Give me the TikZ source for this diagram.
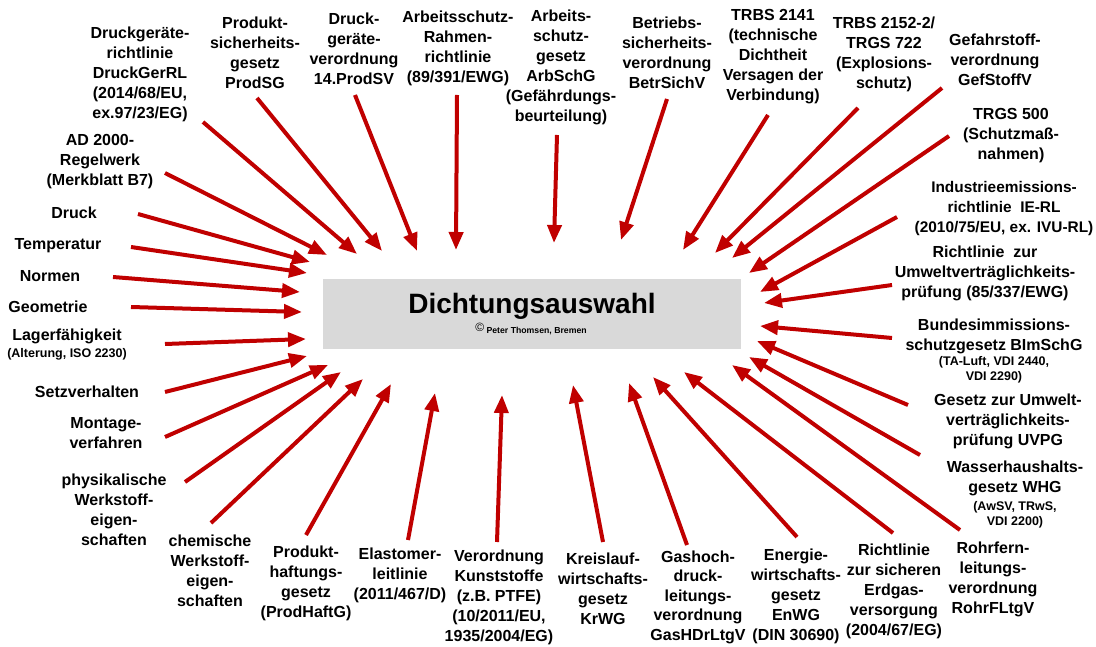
\documentclass[tikz,border=0pt]{standalone}
\usepackage{fontspec}
\setmainfont{Liberation Sans}
\usetikzlibrary{arrows.meta}
\definecolor{arrred}{HTML}{C00000}
\definecolor{boxgray}{HTML}{D9D9D9}
\tikzset{
  lbl/.style={align=center, inner sep=0pt, font=\bfseries\fontsize{16}{20}\selectfont},
  sublbl/.style={align=center, inner sep=0pt, font=\bfseries\fontsize{12.5}{15}\selectfont},
  arr/.style={draw=arrred, line width=4pt, -{Triangle[length=18pt,width=14pt]}, fill=arrred},
  centerbox/.style={fill=boxgray, draw=none, minimum width=418pt, minimum height=70pt, inner sep=0pt}
}
\begin{document}
\begin{tikzpicture}[x=1pt,y=-1pt]
\useasboundingbox (0,0) rectangle (1096,647);
\fill[white] (0,0) rectangle (1096,647);

% centre box
\node[centerbox] (box) at (532,314) {};
\node[anchor=base, inner sep=0pt, font=\bfseries\fontsize{28}{32}\selectfont] (title) at (532,313) {Dichtungsauswahl};
\node[anchor=base, inner sep=0pt, font=\bfseries\fontsize{8.7}{10}\selectfont] (copy) at (531,334) {\raisebox{2pt}{\fontsize{12}{12}\selectfont\mdseries ©}\ Peter Thomsen, Bremen};

% labels: top
\node[lbl] (dgrl) at (140,74) {Druckgeräte-\\richtlinie\\DruckGerRL\\(2014/68/EU,\\ex.97/23/EG)};
\node[lbl] (prodsg) at (255,53) {Produkt-\\sicherheits-\\gesetz\\ProdSG};
\node[lbl] (prodsv) at (354,49) {Druck-\\geräte-\\verordnung\\14.ProdSV};
\node[lbl] (rahmen) at (458,48) {Arbeitsschutz-\\Rahmen-\\richtlinie\\(89/391/EWG)};
\node[lbl] (arbschg) at (561,67) {Arbeits-\\schutz-\\gesetz\\ArbSchG\\(Gefährdungs-\\beurteilung)};
\node[lbl] (betr) at (667,53) {Betriebs-\\sicherheits-\\verordnung\\BetrSichV};
\node[lbl] (trbsa) at (773,57) {TRBS 2141\\(technische\\Dichtheit\\Versagen der\\Verbindung)};
\node[lbl] (trbsb) at (884,54) {TRBS 2152-2/\\TRGS 722\\(Explosions-\\schutz)};
\node[lbl] (gef) at (995,60) {Gefahrstoff-\\verordnung\\GefStoffV};
\node[lbl] (trgs) at (1011,136) {TRGS 500\\(Schutzmaß-\\nahmen)};

% labels: right
\node[lbl, font=\bfseries\fontsize{15.4}{20}\selectfont] (ie) at (1004,209) {Industrieemissions-\\richtlinie~ IE-RL\\(2010/75/EU, ex. IVU-RL)};
\node[lbl] (rluvp) at (985,273) {Richtlinie~ zur\\Umweltverträglichkeits-\\prüfung (85/337/EWG)};
\node[lbl] (bimsch) at (994,336) {Bundesimmissions-\\schutzgesetz BImSchG};
\node[sublbl] (bimschsub) at (994,370) {(TA-Luft, VDI 2440,\\VDI 2290)};
\node[lbl] (uvpg) at (1008,421) {Gesetz zur Umwelt-\\verträglichkeits-\\prüfung UVPG};
\node[lbl] (whg) at (1015,478) {Wasserhaushalts-\\gesetz WHG};
\node[sublbl] (whgsub) at (1015,515) {(AwSV, TRwS,\\VDI 2200)};

% labels: bottom
\node[lbl] (rohr) at (993,579) {Rohrfern-\\leitungs-\\verordnung\\RohrFLtgV};
\node[lbl] (erdgas) at (894,591) {Richtlinie\\zur sicheren\\Erdgas-\\versorgung\\(2004/67/EG)};
\node[lbl] (enwg) at (796,596) {Energie-\\wirtschafts-\\gesetz\\EnWG\\(DIN 30690)};
\node[lbl, font=\bfseries\fontsize{16}{19.5}\selectfont] (gashdr) at (698,597) {Gashoch-\\druck-\\leitungs-\\verordnung\\GasHDrLtgV};
\node[lbl] (krwg) at (603,589) {Kreislauf-\\wirtschafts-\\gesetz\\KrWG};
\node[lbl] (kunst) at (499,597) {Verordnung\\Kunststoffe\\(z.B. PTFE)\\(10/2011/EU,\\1935/2004/EG)};
\node[lbl] (elast) at (400,575) {Elastomer-\\leitlinie\\(2011/467/D)};
\node[lbl] (prodhaft) at (306,583) {Produkt-\\haftungs-\\gesetz\\(ProdHaftG)};
\node[lbl] (chem) at (210,571) {chemische\\Werkstoff-\\eigen-\\schaften};

% labels: left
\node[lbl] (phys) at (114,510) {physikalische\\Werkstoff-\\eigen-\\schaften};
\node[lbl] (montage) at (106,433) {Montage-\\verfahren};
\node[lbl] (setz) at (87,392) {Setzverhalten};
\node[lbl] (lager) at (67,336) {Lagerfähigkeit};
\node[sublbl] (lagersub) at (67,354) {(Alterung, ISO 2230)};
\node[lbl] (geo) at (48,307) {Geometrie};
\node[lbl] (normen) at (50,276) {Normen};
\node[lbl] (temp) at (58,246) {Temperatur};
\node[lbl] (druck) at (74,213) {Druck};
\node[lbl] (ad) at (100,162) {AD 2000-\\Regelwerk\\(Merkblatt B7)};

% connectors
\foreach \n/\sx/\sy/\tx/\ty in {
  dgrl/203/122/357/254, prodsg/257/98/382/251, prodsv/355/95/417/251,
  rahmen/457/95/456/250, arbschg/557/135/554/243, betr/667/99/621/240,
  trbsa/768/115/683/250, trbsb/858/108/715/253, gef/942/88/732/258,
  trgs/949/136/749/273, ie/897/217/760/292, rluvp/892/285/764/303,
  bimsch/892/338/760/326, uvpg/908/405/757/341, whg/920/455/749/357,
  rohr/960/530/732/365, erdgas/893/533/684/372, enwg/797/537/653/377,
  gashdr/687/545/629/383, krwg/603/542/573/385, kunst/497/542/502/395,
  elast/408/540/435/393, prodhaft/306/535/391/384, chem/211/523/363/379,
  phys/185/482/341/372, montage/165/437/328/365, setz/165/392/307/356,
  lager/165/344/306/339, geo/131/307/302/312, normen/113/277/300/292,
  temp/131/247/307/273, druck/138/214/310/262, ad/165/173/327/255}
{
  \coordinate (\n-s) at (\sx,\sy);
  \coordinate (\n-t) at (\tx,\ty);
  \draw[arr] (\n-s) -- (\n-t);
}
\end{tikzpicture}
\end{document}
